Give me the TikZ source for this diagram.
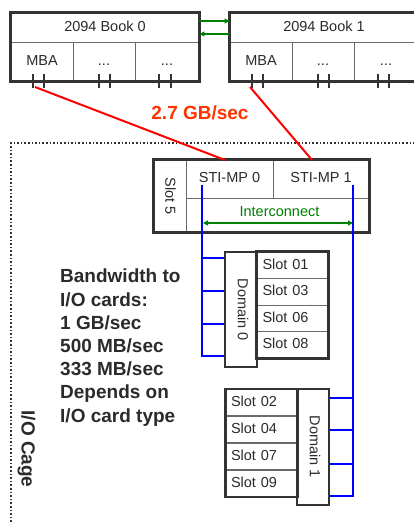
\documentclass[tikz,border=0pt]{standalone}
\usepackage{fontspec}
\setmainfont{Liberation Sans}
\usetikzlibrary{arrows.meta}
\definecolor{dk}{HTML}{333333}
\definecolor{gr}{HTML}{6A6A6A}
\definecolor{txt}{HTML}{2B2B2B}
\definecolor{grn}{HTML}{008000}
\definecolor{rd}{HTML}{FF0000}
\definecolor{org}{HTML}{FF3300}
\definecolor{bl}{HTML}{0000FF}
\begin{document}
\begin{tikzpicture}[x=1pt,y=-1pt,
  wh/.style 2 args={minimum width=#1pt,minimum height=#2pt},
  cell/.style={draw=gr,line width=0.9pt,inner sep=0pt,text=txt,
    font=\fontsize{14.5}{17}\selectfont,text height=10.5pt,text depth=3pt},
  frame/.style={draw=dk,line width=2.4pt},
  tick/.style={draw=dk,line width=2pt},
  lbl/.style={inner sep=0pt,text=txt,font=\fontsize{14.5}{17}\selectfont},
  big/.style={inner sep=0pt,text=txt,font=\fontsize{19}{23.2}\selectfont\bfseries},
  slotc/.style={cell,wh={71}{26.5},text width=60pt,align=left},
  garrow/.style={draw=grn,line width=1.6pt,-{Triangle[length=5pt,width=5pt]}},
  redl/.style={draw=rd,line width=2pt},
  bluel/.style={draw=bl,line width=2pt}
]
\clip (0,0) rectangle (414,523);
\fill[white] (0,0) rectangle (414,523);

% I/O cage (dotted)
\coordinate (cgA) at (11,540);
\coordinate (cgB) at (11,143);
\coordinate (cgC) at (430,143);
\draw[dk,dotted,line width=1.6pt] (cgA) -- (cgB) -- (cgC);
\node[big,rotate=-90] (cage) at (26.5,449) {I/O Cage};

% Book 0
\node[cell,wh={188}{29}] (b0t) at (105,27.5) {2094 Book 0};
\node[cell,wh={62}{39}] (b0a) at (42,61.5) {MBA};
\node[cell,wh={62}{39}] (b0b) at (104,61.5) {...};
\node[cell,wh={64}{39}] (b0c) at (167,61.5) {...};
\draw[frame] (b0t.north west) rectangle (b0c.south east);
\foreach \x in {33,44,99,110,159,171} \draw[tick] (\x,74) -- (\x,88);

% Book 1
\node[cell,wh={188}{29}] (b1t) at (324,27.5) {2094 Book 1};
\node[cell,wh={62}{39}] (b1a) at (261,61.5) {MBA};
\node[cell,wh={62}{39}] (b1b) at (323,61.5) {...};
\node[cell,wh={64}{39}] (b1c) at (386,61.5) {...};
\draw[frame] (b1t.north west) rectangle (b1c.south east);
\foreach \x in {252,263,318,329,378,389} \draw[tick] (\x,74) -- (\x,88);

% green links between books
\draw[garrow] ([yshift=6.5pt]b0t.east) -- ([yshift=6.5pt]b1t.west);
\draw[garrow] ([yshift=-6.5pt]b1t.west) -- ([yshift=-6.5pt]b0t.east);

% STI box
\node[cell,wh={32}{72}] (s5) at (170,196) {};
\node[lbl,rotate=-90] (s5t) at (170.5,196.5) {Slot 5};
\node[cell,wh={87}{38}] (sti0) at (229.5,179) {STI-MP 0};
\node[cell,wh={96}{38}] (sti1) at (321,179) {STI-MP 1};
\node[cell,wh={183}{34}] (icc) at (277.5,215) {};
\node[lbl,text=grn] (ict) at (279.5,211.5) {Interconnect};
\draw[frame] (s5.north west) rectangle (icc.south east);

% red links
\coordinate (m0) at (35,87);
\coordinate (m1) at (250,87);
\coordinate (e0) at (225,160);
\coordinate (e1) at (312,160);
\draw[redl] (m0) -- (e0);
\draw[redl] (m1) -- (e1);
\node[big,text=org] (rate) at (200,113) {2.7 GB/sec};

% blue buses
\coordinate (bu0) at (202,185);
\coordinate (bd0) at (202,357);
\coordinate (bu1) at (353,185);
\coordinate (bd1) at (353,497);
\draw[bluel] (bu0) -- (bd0);
\draw[bluel] (bu1) -- (bd1);

% interconnect arrow
\coordinate (ia) at (203,223);
\coordinate (ib) at (353,223);
\draw[draw=grn,line width=1.6pt,{Triangle[length=5pt,width=5pt]}-{Triangle[length=5pt,width=5pt]}] (ia) -- (ib);

% Domain 0
\node[draw=dk,line width=2.4pt,fill=white,wh={32}{115},inner sep=0pt] (d0) at (241,309.5) {};
\node[lbl,rotate=-90] (d0t) at (243,310) {Domain 0};
\node[slotc] (s01) at (292.5,265.25) {Slot 01};
\node[slotc] (s03) at (292.5,291.75) {Slot 03};
\node[slotc] (s06) at (292.5,318.25) {Slot 06};
\node[slotc] (s08) at (292.5,344.75) {Slot 08};
\draw[frame] (s01.north west) rectangle (s08.south east);
\foreach \y in {258,291,324,356}
  \draw[bluel] (202,\y) -- (d0.west |- 0,\y);

% Domain 1
\node[draw=dk,line width=2.4pt,fill=white,wh={32}{116},inner sep=0pt] (d1) at (313,447) {};
\node[lbl,rotate=-90] (d1t) at (315,447) {Domain 1};
\node[slotc,text width=61pt] (s02) at (261.5,402.5) {Slot 02};
\node[slotc,text width=61pt] (s04) at (261.5,429.5) {Slot 04};
\node[slotc,text width=61pt] (s07) at (261.5,456.5) {Slot 07};
\node[slotc,text width=61pt] (s09) at (261.5,483.5) {Slot 09};
\draw[frame] (s02.north west) rectangle (s09.south east);
\foreach \y in {398,430,464,496}
  \draw[bluel] (d1.east |- 0,\y) -- (353,\y);

% bandwidth text
\node[big,anchor=north west,align=left] (bw) at (60,269)
  {Bandwidth to\\I/O cards:\\1 GB/sec\\500 MB/sec\\333 MB/sec\\Depends on\\I/O card type};
\end{tikzpicture}
\end{document}
